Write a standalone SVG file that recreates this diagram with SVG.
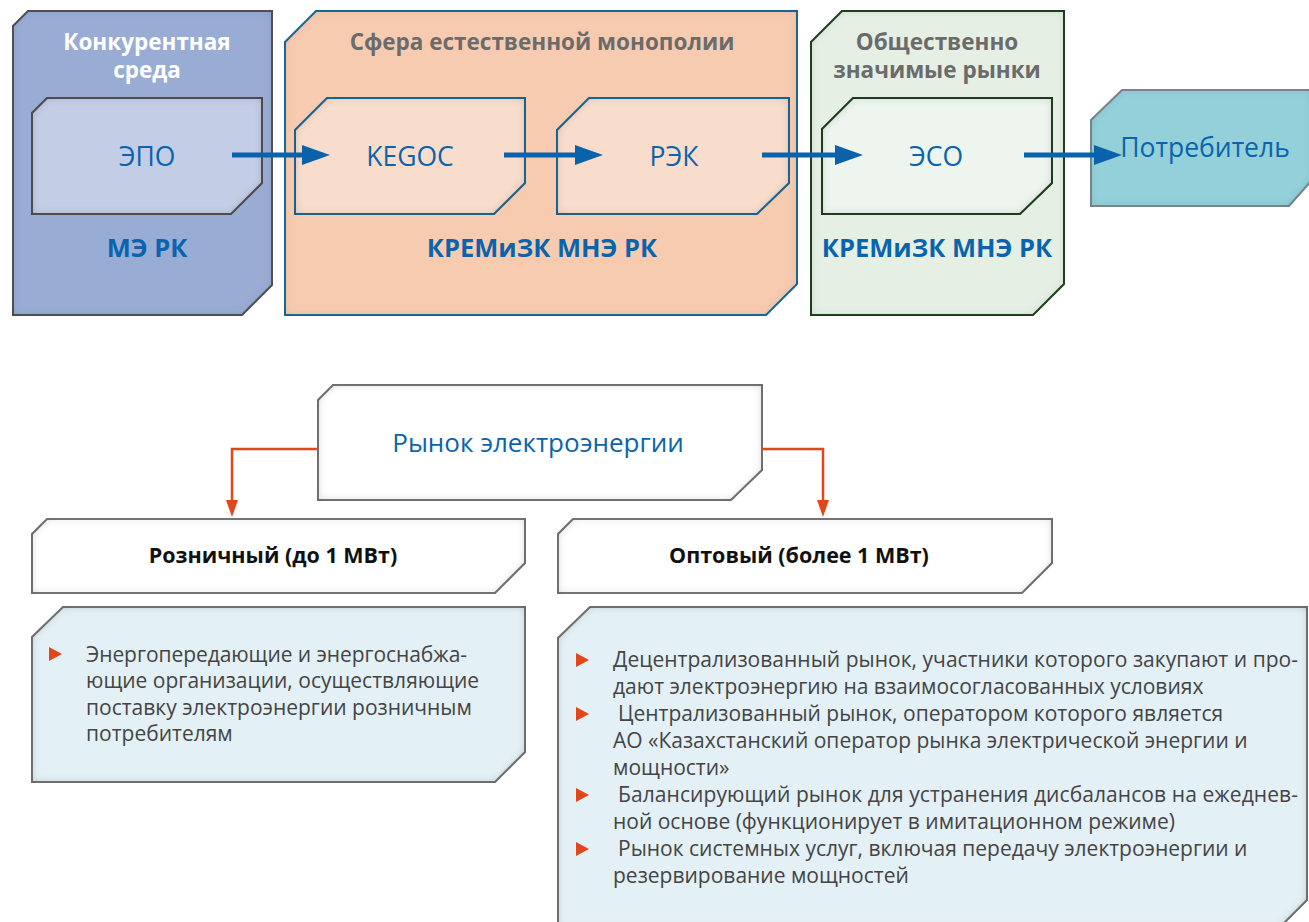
<svg xmlns="http://www.w3.org/2000/svg" width="1309" height="922" viewBox="0 0 1309 922">
<style>
text{font-family:"Open Sans","DejaVu Sans",sans-serif}
.hw{font-size:22.5px;font-weight:700;fill:#ffffff;text-anchor:middle}
.hg{font-size:22.5px;font-weight:700;fill:#6b6b6b;text-anchor:middle}
.in{font-size:26.5px;fill:#0a64ad;text-anchor:middle}
.mk{font-size:26px;fill:#0a64ad;text-anchor:middle}
.reg{font-size:25.5px;font-weight:700;fill:#0a64ad;text-anchor:middle}
.sub{font-size:21.5px;font-weight:700;fill:#111;text-anchor:middle}
.bt{font-size:21px;fill:#444}
.bul{fill:#e2461b}
</style>
<defs>
<filter id="inner" x="-5%" y="-5%" width="110%" height="110%">
<feFlood flood-color="#000" flood-opacity="0.45"/>
<feComposite in2="SourceAlpha" operator="out"/>
<feGaussianBlur stdDeviation="4"/>
<feComposite in2="SourceAlpha" operator="in" result="sh"/>
<feMerge><feMergeNode in="SourceGraphic"/><feMergeNode in="sh"/></feMerge>
</filter>
<filter id="innerL" x="-5%" y="-5%" width="110%" height="110%">
<feFlood flood-color="#000" flood-opacity="0.25"/>
<feComposite in2="SourceAlpha" operator="out"/>
<feGaussianBlur stdDeviation="5"/>
<feComposite in2="SourceAlpha" operator="in" result="sh"/>
<feMerge><feMergeNode in="SourceGraphic"/><feMergeNode in="sh"/></feMerge>
</filter>
<marker id="ab" markerUnits="userSpaceOnUse" markerWidth="28" markerHeight="20" refX="18" refY="10" orient="auto">
<path d="M0,0 L28,10 L0,20 Z" fill="#0a62ab"/>
</marker>
<marker id="ar" markerUnits="userSpaceOnUse" markerWidth="17" markerHeight="12" refX="7" refY="6" orient="auto">
<path d="M0,0 L17,6 L0,12 Z" fill="#e2461b"/>
</marker>
</defs>

<g id="konkur">
<path d="M13,26 L28,11 L272,11 L272,285 L242,315 L13,315 Z" fill="#98acd4" stroke="#555" stroke-width="2" filter="url(#innerL)"/>
<text class="hw" x="147" y="50">Конкурентная</text>
<text class="hw" x="147" y="78">среда</text>
<text class="reg" x="147" y="257">МЭ РК</text>
</g>
<g id="sfera">
<path d="M285,42 L316,11 L797,11 L797,284 L766,315 L285,315 Z" fill="#f7cbb0" stroke="#1f6e9c" stroke-width="2" filter="url(#innerL)"/>
<text class="hg" x="542" y="50">Сфера естественной монополии</text>
<text class="reg" x="542" y="257">КРЕМиЗК МНЭ РК</text>
</g>
<g id="obsh">
<path d="M811,42 L842,11 L1064,11 L1064,284 L1033,315 L811,315 Z" fill="#e5efe4" stroke="#234523" stroke-width="2" filter="url(#innerL)"/>
<text class="hg" x="937" y="50">Общественно</text>
<text class="hg" x="937" y="78">значимые рынки</text>
<text class="reg" x="937" y="257">КРЕМиЗК МНЭ РК</text>
</g>
<g id="epo">
<path d="M32,113 L47,98 L262,98 L262,183 L231,214 L32,214 Z" fill="#c3cde6" stroke="#555" stroke-width="2" filter="url(#inner)"/>
<text class="in" x="147" y="166">ЭПО</text>
</g>
<g id="kegoc">
<path d="M295,130 L327,98 L525,98 L525,183 L494,214 L295,214 Z" fill="#f9ddcc" stroke="#1f6e9c" stroke-width="2" filter="url(#inner)"/>
<text class="in" x="410" y="166">KEGOC</text>
</g>
<g id="rek">
<path d="M557,130 L589,98 L789,98 L789,183 L757,214 L557,214 Z" fill="#f9ddcc" stroke="#1f6e9c" stroke-width="2" filter="url(#inner)"/>
<text class="in" x="674" y="166">РЭК</text>
</g>
<g id="eso">
<path d="M822,129 L853,98 L1052,98 L1052,183 L1020,214 L822,214 Z" fill="#eef4ee" stroke="#234523" stroke-width="2" filter="url(#inner)"/>
<text class="in" x="936" y="166">ЭСО</text>
</g>
<g id="potreb">
<path d="M1091,120 L1122,90 L1312,90 L1312,180 L1289,206 L1091,206 Z" fill="#93d0da" stroke="#7d8b8f" stroke-width="2" filter="url(#innerL)"/>
<text class="in" x="1205" y="157">Потребитель</text>
</g>

<g id="rynok">
<path d="M318,400 L333,385 L762,385 L762,470 L731,500 L318,500 Z" fill="#fff" stroke="#7a7a7a" stroke-width="2" filter="url(#inner)"/>
<text class="mk" x="538" y="452">Рынок электроэнергии</text>
</g>
<g id="rozn">
<path d="M32,534 L47,519 L525,519 L525,563 L495,593 L32,593 Z" fill="#fff" stroke="#7a7a7a" stroke-width="2" filter="url(#inner)"/>
<text class="sub" x="273" y="563">Розничный (до 1 МВт)</text>
</g>
<g id="opt">
<path d="M558,534 L573,519 L1052,519 L1052,563 L1022,593 L558,593 Z" fill="#fff" stroke="#7a7a7a" stroke-width="2" filter="url(#inner)"/>
<text class="sub" x="799" y="563">Оптовый (более 1 МВт)</text>
</g>
<g id="rozn-list">
<path d="M32,637 L63,607 L525,607 L525,752 L495,782 L32,782 Z" fill="#e3f0f5" stroke="#7a7a7a" stroke-width="2" filter="url(#inner)"/>
<path class="bul" d="M49,647 L62,654 L49,661 Z"/>
<text class="bt" x="86" y="662" textLength="381" lengthAdjust="spacing">Энергопередающие и энергоснабжа-</text>
<text class="bt" x="86" y="688">ющие организации, осуществляющие</text>
<text class="bt" x="86" y="715">поставку электроэнергии розничным</text>
<text class="bt" x="86" y="741">потребителям</text>
</g>
<g id="opt-list">
<path d="M558,638 L590,607 L1307,607 L1307,900 L1277,930 L558,930 Z" fill="#e3f0f5" stroke="#7a7a7a" stroke-width="2" filter="url(#inner)"/>
<path class="bul" d="M576,653 L589,660 L576,667 Z"/>
<path class="bul" d="M576,707 L589,714 L576,721 Z"/>
<path class="bul" d="M576,788 L589,795 L576,802 Z"/>
<path class="bul" d="M576,842 L589,849 L576,856 Z"/>
<text class="bt" x="613" y="667" textLength="685" lengthAdjust="spacing">Децентрализованный рынок, участники которого закупают и про-</text>
<text class="bt" x="613" y="694">дают электроэнергию на взаимосогласованных условиях</text>
<text class="bt" x="618" y="721">Централизованный рынок, оператором которого является</text>
<text class="bt" x="613" y="748">АО «Казахстанский оператор рынка электрической энергии и</text>
<text class="bt" x="613" y="775">мощности»</text>
<text class="bt" x="618" y="802" textLength="680" lengthAdjust="spacing">Балансирующий рынок для устранения дисбалансов на ежеднев-</text>
<text class="bt" x="613" y="829">ной основе (функционирует в имитационном режиме)</text>
<text class="bt" x="618" y="856">Рынок системных услуг, включая передачу электроэнергии и</text>
<text class="bt" x="613" y="883">резервирование мощностей</text>
</g>

<g id="connectors" fill="none">
<g stroke="#0a62ab" stroke-width="5" marker-end="url(#ab)">
<line x1="232" y1="155" x2="320" y2="155"/>
<line x1="504" y1="155" x2="593" y2="155"/>
<line x1="762" y1="155" x2="853" y2="155"/>
<line x1="1024" y1="155" x2="1112" y2="155"/>
</g>
<g stroke="#e2461b" stroke-width="2.5" marker-end="url(#ar)">
<polyline points="318,449 232,449 232,507"/>
<polyline points="762,449 823,449 823,507"/>
</g>
</g>
</svg>
